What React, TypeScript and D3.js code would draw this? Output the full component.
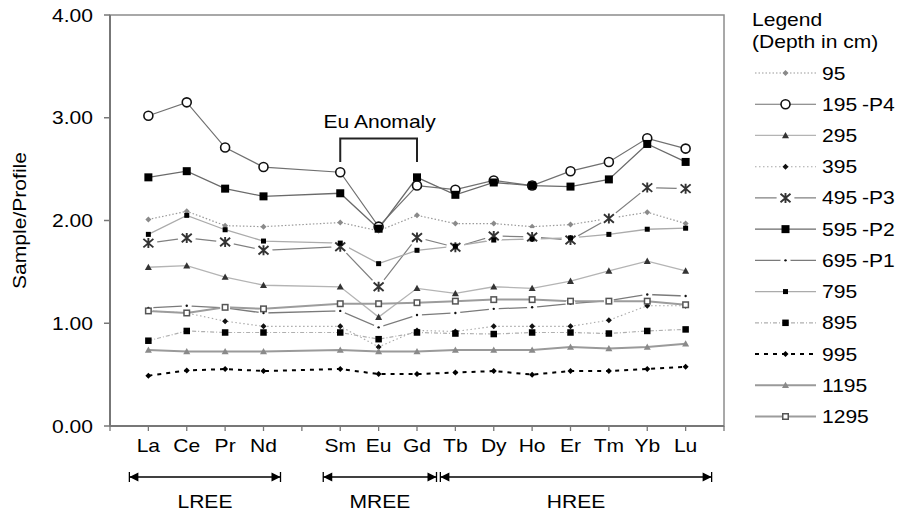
import React from "react";
import * as d3 from "d3";

const categories = ["La", "Ce", "Pr", "Nd", "Sm", "Eu", "Gd", "Tb", "Dy", "Ho", "Er", "Tm", "Yb", "Lu"];
const slots = ["s0", "La", "Ce", "Pr", "Nd", "gap", "Sm", "Eu", "Gd", "Tb", "Dy", "Ho", "Er", "Tm", "Yb", "Lu", "end"];
const yTicks = [0, 1, 2, 3, 4];

const d95 = [2.01, 2.09, 1.95, 1.94, 1.98, 1.9, 2.05, 1.97, 1.97, 1.94, 1.96, 2.02, 2.08, 1.97];
const d195 = [3.02, 3.15, 2.71, 2.52, 2.47, 1.94, 2.34, 2.3, 2.39, 2.34, 2.48, 2.57, 2.8, 2.7];
const d295 = [1.545, 1.56, 1.45, 1.37, 1.355, 1.06, 1.34, 1.29, 1.355, 1.34, 1.41, 1.51, 1.605, 1.51];
const d395 = [1.12, 1.1, 1.02, 0.97, 0.97, 0.77, 0.93, 0.92, 0.97, 0.97, 0.97, 1.03, 1.17, 1.17];
const d495 = [1.78, 1.83, 1.79, 1.71, 1.745, 1.355, 1.835, 1.74, 1.85, 1.84, 1.81, 2.02, 2.32, 2.31];
const d595 = [2.42, 2.48, 2.31, 2.235, 2.265, 1.92, 2.42, 2.25, 2.37, 2.34, 2.33, 2.4, 2.745, 2.57];
const d695 = [1.15, 1.17, 1.15, 1.1, 1.12, 0.96, 1.08, 1.1, 1.14, 1.155, 1.19, 1.22, 1.28, 1.265];
const d795 = [1.865, 2.05, 1.91, 1.8, 1.78, 1.58, 1.71, 1.75, 1.81, 1.82, 1.83, 1.865, 1.915, 1.925];
const d895 = [0.83, 0.925, 0.91, 0.91, 0.91, 0.845, 0.91, 0.9, 0.895, 0.91, 0.91, 0.9, 0.925, 0.94];
const d995 = [0.49, 0.54, 0.555, 0.535, 0.555, 0.505, 0.505, 0.52, 0.535, 0.5, 0.535, 0.535, 0.555, 0.577];
const d1195 = [0.74, 0.725, 0.725, 0.725, 0.74, 0.725, 0.725, 0.74, 0.74, 0.74, 0.77, 0.755, 0.77, 0.8];
const d1295 = [1.12, 1.1, 1.155, 1.14, 1.19, 1.19, 1.2, 1.215, 1.23, 1.23, 1.215, 1.215, 1.215, 1.18];

const seriesNames = ["95", "195", "295", "395", "495", "595", "695", "795", "895", "995", "1195", "1295"];
const seriesSuffix = ["", "-P4", "", "", "-P3", "-P2", "-P1", "", "", "", "", ""];
const seriesValues = [d95, d195, d295, d395, d495, d595, d695, d795, d895, d995, d1195, d1295];

const groups = [
  { name: "LREE", from: "La", to: "Nd" },
  { name: "MREE", from: "Sm", to: "Gd" },
  { name: "HREE", from: "Tb", to: "Lu" },
];

type Style = {
  stroke: string;
  width: number;
  dash?: string;
  marker: string;
  mColor: string;
  mSize: number;
  gap?: boolean;
};

const styles: Style[] = [
  { stroke: "#9a9a9a", width: 1.2, dash: "1.5 2", marker: "diamond", mColor: "#8a8a8a", mSize: 6 },
  { stroke: "#707070", width: 1.2, marker: "circle", mColor: "#111", mSize: 9 },
  { stroke: "#b4b4b4", width: 1.3, marker: "triangle", mColor: "#333", mSize: 7 },
  { stroke: "#a8a8a8", width: 1.1, dash: "1.5 2.5", marker: "diamond", mColor: "#111", mSize: 6 },
  { stroke: "#808080", width: 1.2, marker: "star", mColor: "#333", mSize: 10, gap: true },
  { stroke: "#6a6a6a", width: 1.3, marker: "square", mColor: "#000", mSize: 8 },
  { stroke: "#7a7a7a", width: 1.3, marker: "dot", mColor: "#111", mSize: 4, gap: true },
  { stroke: "#ababab", width: 1.3, marker: "square", mColor: "#000", mSize: 5 },
  { stroke: "#b0b0b0", width: 1.2, dash: "4 2 1 2", marker: "square", mColor: "#000", mSize: 6.5 },
  { stroke: "#000", width: 2, dash: "4 5", marker: "diamond", mColor: "#000", mSize: 6 },
  { stroke: "#9a9a9a", width: 2, marker: "triangle", mColor: "#8a8a8a", mSize: 7 },
  { stroke: "#9c9c9c", width: 2, marker: "osquare", mColor: "#555", mSize: 5.5 },
];

const W = 898;
const H = 512;
const left = 110;
const right = 724;
const top = 15;
const bottom = 426;
const FONT = "'Liberation Sans', Arial, sans-serif";
const SX = 1.17;

function T({ x, y, anchor = "start", size = 18, rotate = 0, children }: any) {
  const tr = `translate(${x},${y})${rotate ? ` rotate(${rotate})` : ""} scale(${SX},1)`;
  return (
    <text transform={tr} textAnchor={anchor} fontFamily={FONT} fontSize={size} fill="#000">
      {children}
    </text>
  );
}

function Marker({ type, x, y, color, size, gap }: any) {
  const s = size / 2;
  const halo = gap ? <circle cx={x} cy={y} r={s + 4} fill="#fff" /> : null;
  switch (type) {
    case "circle":
      return <circle cx={x} cy={y} r={s} fill="#fff" stroke={color} strokeWidth={1.6} />;
    case "square":
      return <rect x={x - s} y={y - s} width={size} height={size} fill={color} />;
    case "osquare":
      return <rect x={x - s} y={y - s} width={size} height={size} fill="#fff" stroke={color} strokeWidth={1.5} />;
    case "diamond":
      return <path d={`M${x},${y - s}L${x + s},${y}L${x},${y + s}L${x - s},${y}Z`} fill={color} />;
    case "triangle":
      return <path d={`M${x},${y - s}L${x + s},${y + s * 0.8}L${x - s},${y + s * 0.8}Z`} fill={color} />;
    case "star":
      return (
        <g>
          {halo}
          <path
            d={`M${x - s},${y - s * 0.85}L${x + s},${y + s * 0.85}M${x + s},${y - s * 0.85}L${x - s},${y + s * 0.85}M${x},${y - s}V${y + s}`}
            stroke={color}
            strokeWidth={1.9}
            fill="none"
          />
        </g>
      );
    case "dot":
      return (
        <g>
          <circle cx={x} cy={y} r={s + 3} fill="#fff" />
          <circle cx={x} cy={y} r={s * 0.6} fill={color} />
        </g>
      );
    default:
      return null;
  }
}

function Arrow({ x1, x2, y }: any) {
  const h = 5;
  const a = 9;
  return (
    <g>
      <line x1={x1} x2={x2} y1={y} y2={y} stroke="#000" strokeWidth={1.3} />
      <line x1={x1} x2={x1} y1={y - h} y2={y + h} stroke="#000" strokeWidth={1.3} />
      <line x1={x2} x2={x2} y1={y - h} y2={y + h} stroke="#000" strokeWidth={1.3} />
      <path d={`M${x1},${y}L${x1 + a},${y - 4.5}L${x1 + a},${y + 4.5}Z`} fill="#000" />
      <path d={`M${x2},${y}L${x2 - a},${y - 4.5}L${x2 - a},${y + 4.5}Z`} fill="#000" />
    </g>
  );
}

export default function App() {
  const x = d3.scalePoint<string>().domain(slots).range([left, right]);
  const y = d3.scaleLinear().domain([0, 4]).range([bottom, top]);
  const line = d3
    .line<number>()
    .x((_, i) => x(categories[i]) as number)
    .y((v) => y(v));

  const legendY = d3.scaleLinear().domain([0, seriesNames.length - 1]).range([73, 416.5]);
  const groupPad: Record<string, [number, number]> = { LREE: [19, 17], MREE: [17, 19.5], HREE: [15, 26] };

  return (
    <svg width={W} height={H} style={{ position: "absolute", left: 0, top: 0, background: "#fff" }}>
      <rect x={0} y={0} width={W} height={H} fill="#fff" />
      {/* frame */}
      <rect x={left} y={top} width={right - left} height={bottom - top} fill="none" stroke="#8c8c8c" strokeWidth={1.5} />
      <line x1={left} x2={left} y1={top} y2={bottom} stroke="#777" strokeWidth={2} />
      <line x1={left} x2={right} y1={bottom} y2={bottom} stroke="#777" strokeWidth={2} />
      {yTicks.map((t) => (
        <g key={t}>
          <line x1={left - 6} x2={left} y1={y(t)} y2={y(t)} stroke="#777" strokeWidth={1.5} />
          <T x={93} y={y(t) + 6.5} anchor="end">
            {d3.format(".2f")(t)}
          </T>
        </g>
      ))}
      {slots.map((s) => (
        <line key={s} x1={x(s)} x2={x(s)} y1={bottom} y2={bottom + 5} stroke="#777" strokeWidth={1.3} />
      ))}
      {categories.map((c) => (
        <T key={c} x={x(c)} y={452} anchor="middle">
          {c}
        </T>
      ))}
      <T x={26} y={(top + bottom) / 2} anchor="middle" rotate={-90}>
        Sample/Profile
      </T>

      {/* series */}
      {seriesValues.map((vals, si) => {
        const st = styles[si];
        return (
          <g key={si}>
            <path d={line(vals) || ""} fill="none" stroke={st.stroke} strokeWidth={st.width} strokeDasharray={st.dash} />
          </g>
        );
      })}
      {seriesValues.map((vals, si) => {
        const st = styles[si];
        return (
          <g key={"m" + si}>
            {vals.map((v, i) => (
              <Marker key={i} type={st.marker} x={x(categories[i])} y={y(v)} color={st.mColor} size={st.mSize} gap={st.gap} />
            ))}
          </g>
        );
      })}

      {/* Eu anomaly */}
      <path
        d={`M${x("Sm")},162V138.5H${x("Gd")}V162`}
        fill="none"
        stroke="#222"
        strokeWidth={2}
      />
      <T x={(x("Sm")! + x("Gd")!) / 2 + 1} y={128} anchor="middle">
        Eu Anomaly
      </T>

      {/* groups */}
      {groups.map((g) => (
        <g key={g.name}>
          <Arrow x1={x(g.from)! - groupPad[g.name][0]} x2={x(g.to)! + groupPad[g.name][1]} y={477} />
          <T x={(x(g.from)! - groupPad[g.name][0] + x(g.to)! + groupPad[g.name][1]) / 2} y={508} anchor="middle">
            {g.name}
          </T>
        </g>
      ))}

      {/* legend */}
      <T x={752} y={26}>
        Legend
      </T>
      <T x={752} y={48}>
        (Depth in cm)
      </T>
      {seriesNames.map((n, i) => {
        const st = styles[i];
        const ly = legendY(i);
        return (
          <g key={n}>
            <line x1={755} x2={816} y1={ly} y2={ly} stroke={st.stroke} strokeWidth={st.width} strokeDasharray={st.dash} />
            <Marker type={st.marker} x={785.5} y={ly} color={st.mColor} size={st.mSize} gap={st.gap} />
            <T x={822} y={ly + 6.5}>
              {n}
            </T>
            {seriesSuffix[i] && (
              <T x={862} y={ly + 6.5}>
                {seriesSuffix[i]}
              </T>
            )}
          </g>
        );
      })}
    </svg>
  );
}
